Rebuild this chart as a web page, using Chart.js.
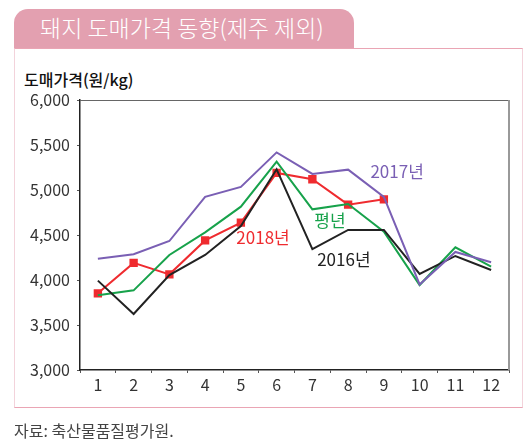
<!DOCTYPE html>
<html>
<head>
<meta charset="utf-8">
<script src="https://cdn.jsdelivr.net/npm/chart.js@4"></script>
<style>
  html, body { margin: 0; padding: 0; background: #fff; }
  body { width: 528px; height: 445px; position: relative; overflow: hidden; font-family: "Noto Sans CJK KR", "Noto Sans", sans-serif; }
  #tab {
    position: absolute; left: 14px; top: 9px; width: 340px; height: 39px;
    background: #e3a0b0; border-radius: 14px 14px 0 0;
    color: #fff; font-size: 23px; font-weight: 300; line-height: 37px; padding-left: 26px; box-sizing: border-box;
  }
  #frame {
    position: absolute; left: 14px; top: 48px; width: 509px; height: 360px; box-sizing: border-box;
    border: 1.5px solid #eaa5b4; border-left-color: #f3d3db; border-right-color: #f3d3db;
  }
  #ytitle { position: absolute; left: 24px; top: 67px; font-size: 16px; font-weight: 500; color: #111; }
  #source { position: absolute; left: 14px; top: 418px; font-size: 16px; color: #444; }
  #wrap { position: absolute; left: 0; top: 0; width: 528px; height: 445px; }
</style>
</head>
<body>
<div id="tab">돼지 도매가격 동향(제주 제외)</div>
<div id="frame"></div>
<div id="ytitle">도매가격(원/kg)</div>
<div id="wrap"><canvas id="chart" width="528" height="445"></canvas></div>
<div id="source">자료: 축산물품질평가원.</div>

<script>
// DATA
const months = ["1", "2", "3", "4", "5", "6", "7", "8", "9", "10", "11", "12"];
const y2016 = [3993, 3622, 4055, 4278, 4600, 5230, 4344, 4556, 4556, 4067, 4267, 4111];
const y2017 = [4236, 4287, 4433, 4924, 5035, 5418, 5178, 5226, 4924, 3950, 4312, 4198];
const y2018 = [3852, 4190, 4063, 4440, 4637, 5190, 5119, 4837, 4896, null, null, null];
const average = [3830, 3885, 4278, 4530, 4815, 5315, 4785, 4844, 4537, 3944, 4363, 4148];

// series labels placed in data units (x = month index, y = price)
const labelText = ["2017년", "평년", "2018년", "2016년"];
const labelX = [8.37, 6.49, 4.62, 6.88];
const labelY = [5200, 4656, 4467, 4222];
const labelColors = ["#7a5fb4", "#17a24b", "#ef2b2f", "#222222"];

const FONT = "'Noto Sans CJK KR', 'Noto Sans', sans-serif";

// PLOT BORDER + SERIES LABELS
const extras = {
    id: "extras",
    beforeDatasetsDraw(chart) {
        const { ctx, chartArea: a } = chart;
        ctx.save();
        ctx.strokeStyle = "#666";
        ctx.lineWidth = 1;
        ctx.beginPath();
        ctx.moveTo(a.left, a.top + 0.5);
        ctx.lineTo(a.right, a.top + 0.5);
        ctx.stroke();
        ctx.strokeStyle = "#999";
        ctx.lineWidth = 2;
        ctx.beginPath();
        ctx.moveTo(a.right, a.top);
        ctx.lineTo(a.right, a.bottom);
        ctx.stroke();
        ctx.restore();
    },
    afterDatasetsDraw(chart) {
        const { ctx, scales } = chart;
        ctx.save();
        ctx.font = "17px " + FONT;
        ctx.textAlign = "center";
        ctx.textBaseline = "middle";
        labelText.forEach((t, i) => {
            ctx.fillStyle = labelColors[i];
            ctx.fillText(t, scales.x.getPixelForValue(labelX[i]), scales.y.getPixelForValue(labelY[i]));
        });
        ctx.restore();
    }
};

const line = (data, color, extra) => Object.assign({
    data: data,
    borderColor: color,
    backgroundColor: color,
    borderWidth: 2,
    pointRadius: 0,
    tension: 0,
    spanGaps: false
}, extra || {});

new Chart(document.getElementById("chart"), {
    type: "line",
    data: {
        labels: months,
        datasets: [
            line(y2017, "#7a5fb4"),
            line(y2016, "#222222"),
            line(average, "#17a24b"),
            line(y2018, "#ef2b2f", { pointStyle: "rect", pointRadius: 4.5, borderWidth: 2 })
        ]
    },
    options: {
        responsive: false,
        animation: false,
        events: [],
        layout: { padding: { left: 0, top: 100, right: 19, bottom: 0 } },
        plugins: { legend: { display: false }, tooltip: { enabled: false } },
        scales: {
            x: {
                offset: true,
                afterFit(s) { s.height = 75; },
                grid: { display: true, drawOnChartArea: false, tickLength: 3, color: "#555", offset: true },
                border: { display: true, color: "#222", width: 1.5 },
                ticks: { color: "#333", font: { family: FONT, size: 16 }, padding: 2 }
            },
            y: {
                min: 3000,
                max: 6000,
                afterFit(s) { s.width = 80; },
                grid: { display: true, drawOnChartArea: false, tickLength: 3, color: "#555" },
                border: { display: true, color: "#222", width: 1.5 },
                ticks: {
                    stepSize: 500,
                    color: "#333",
                    font: { family: FONT, size: 16 },
                    padding: 7,
                    callback: v => v.toLocaleString("en-US")
                }
            }
        }
    },
    plugins: [extras]
});
</script>
</body>
</html>
